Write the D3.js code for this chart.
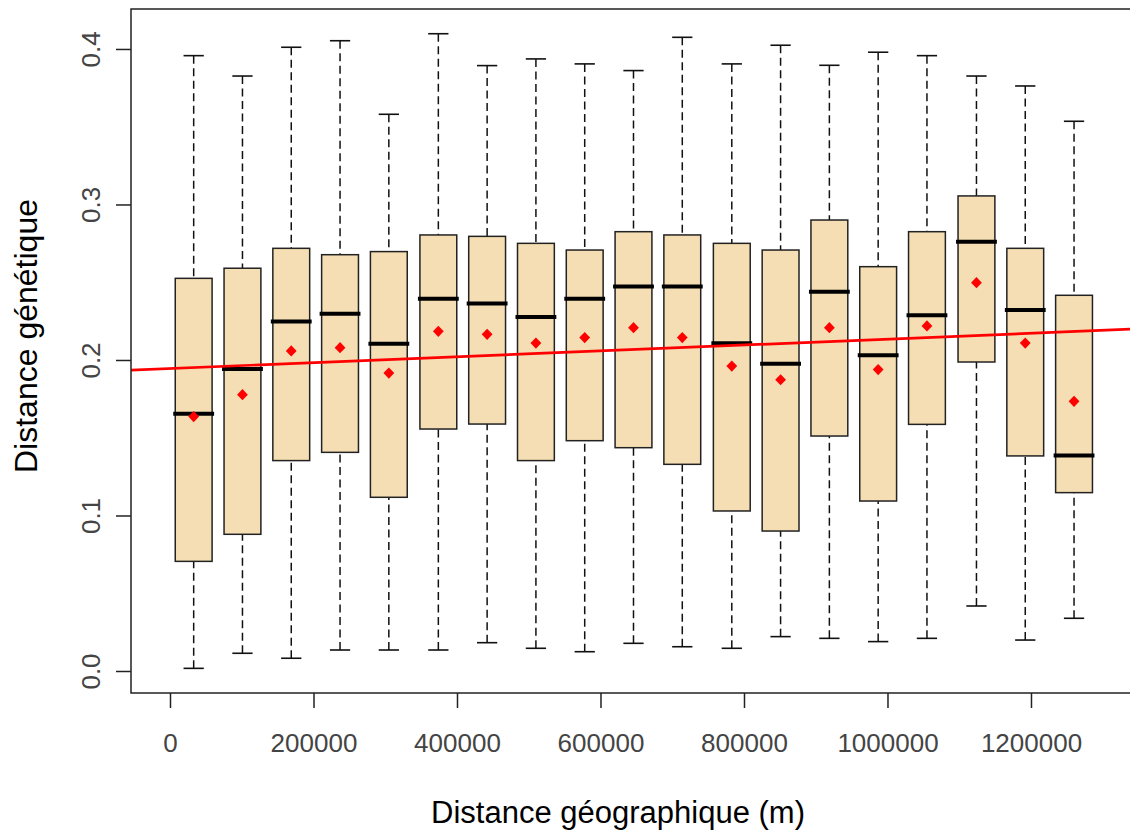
<!DOCTYPE html>
<html>
<head>
<meta charset="utf-8">
<script src="https://cdn.jsdelivr.net/npm/d3@7"></script>
<style>
  html, body { margin: 0; padding: 0; background: #fff; }
  svg { display: block; font-family: "Liberation Sans", Arial, Helvetica, sans-serif; }
</style>
</head>
<body>
<svg id="chart" width="1130" height="834"></svg>
<script>
// ---- data ----
const binCenters = [33000, 101000, 169000, 237000, 305000, 374000, 442000, 510000, 578000, 646000,
                    714000, 783000, 851000, 919000, 987000, 1055000, 1124000, 1192000, 1260000];
const whiskerLow = [0.0017, 0.0114, 0.0082, 0.0135, 0.0135, 0.0135, 0.0182, 0.0146, 0.0124, 0.0178,
                    0.0156, 0.0146, 0.0221, 0.0210, 0.0189, 0.0210, 0.0418, 0.0199, 0.0339];
const q1 =         [0.0705, 0.0879, 0.1353, 0.1406, 0.1117, 0.1556, 0.1588, 0.1353, 0.1481, 0.1436,
                    0.1329, 0.1029, 0.0900, 0.1511, 0.1093, 0.1586, 0.1987, 0.1383, 0.1147];
const medians =    [0.1655, 0.1942, 0.2247, 0.2298, 0.2105, 0.2394, 0.2364, 0.2277, 0.2394, 0.2472,
                    0.2472, 0.2107, 0.1976, 0.2439, 0.2030, 0.2287, 0.2761, 0.2322, 0.1385];
const q3 =         [0.2525, 0.2590, 0.2718, 0.2677, 0.2697, 0.2804, 0.2795, 0.2750, 0.2707, 0.2825,
                    0.2804, 0.2750, 0.2707, 0.2900, 0.2600, 0.2825, 0.3055, 0.2718, 0.2416];
const whiskerHigh = [0.3957, 0.3826, 0.4011, 0.4053, 0.3580, 0.4098, 0.3893, 0.3936, 0.3904, 0.3861,
                    0.4075, 0.3904, 0.4024, 0.3895, 0.3979, 0.3957, 0.3826, 0.3762, 0.3535];
const means =      [0.1636, 0.1777, 0.2058, 0.2079, 0.1916, 0.2184, 0.2165, 0.2109, 0.2144, 0.2208,
                    0.2144, 0.1961, 0.1873, 0.2208, 0.1938, 0.2219, 0.2497, 0.2109, 0.1734];
const regIntercept = 0.1945;     // linear fit: genetic = a + b * geographic
const regSlope = 1.89e-8;
const xTicks = [0, 200000, 400000, 600000, 800000, 1000000, 1200000];
const yTicks = [0.0, 0.1, 0.2, 0.3, 0.4];
const xTitle = "Distance géographique (m)";
const yTitle = "Distance génétique";

// ---- layout ----
const plot = { left: 131, right: 1184, top: 9, bottom: 693 };
const x = d3.scaleLinear().domain([-54355, 1413256]).range([plot.left, plot.right]);
const y = d3.scaleLinear().domain([-0.01415, 0.4257]).range([plot.bottom, plot.top]);

const svg = d3.select("#chart");
const boxes = binCenters.map((c, i) => ({
  c, lo: whiskerLow[i], q1: q1[i], med: medians[i], q3: q3[i], hi: whiskerHigh[i], mean: means[i]
}));
const step = x(binCenters[1]) - x(binCenters[0]);
const boxW = step * 0.755;
const capW = boxW * 0.55;

svg.append("clipPath").attr("id", "clip")
  .append("rect").attr("x", plot.left).attr("y", plot.top)
  .attr("width", plot.right - plot.left).attr("height", plot.bottom - plot.top);

const g = svg.append("g");

// whiskers (dashed, drawn from the cap towards the box)
const bx = g.selectAll("g.box").data(boxes).join("g").attr("class", "box");
bx.append("line")
  .attr("x1", d => x(d.c)).attr("x2", d => x(d.c))
  .attr("y1", d => y(d.hi)).attr("y2", d => y(d.q3))
  .attr("stroke", "#111").attr("stroke-width", 1.5).attr("stroke-dasharray", "8,4.5");
bx.append("line")
  .attr("x1", d => x(d.c)).attr("x2", d => x(d.c))
  .attr("y1", d => y(d.lo)).attr("y2", d => y(d.q1))
  .attr("stroke", "#111").attr("stroke-width", 1.5).attr("stroke-dasharray", "8,4.5");
// caps
bx.append("line")
  .attr("x1", d => x(d.c) - capW / 2).attr("x2", d => x(d.c) + capW / 2)
  .attr("y1", d => y(d.hi)).attr("y2", d => y(d.hi))
  .attr("stroke", "#111").attr("stroke-width", 1.6);
bx.append("line")
  .attr("x1", d => x(d.c) - capW / 2).attr("x2", d => x(d.c) + capW / 2)
  .attr("y1", d => y(d.lo)).attr("y2", d => y(d.lo))
  .attr("stroke", "#111").attr("stroke-width", 1.6);
// box
bx.append("rect")
  .attr("x", d => x(d.c) - boxW / 2).attr("width", boxW)
  .attr("y", d => y(d.q3)).attr("height", d => y(d.q1) - y(d.q3))
  .attr("fill", "#F5DEB3").attr("stroke", "#222").attr("stroke-width", 1.5);
// median
bx.append("line")
  .attr("x1", d => x(d.c) - boxW / 2 - 2).attr("x2", d => x(d.c) + boxW / 2 + 2)
  .attr("y1", d => y(d.med)).attr("y2", d => y(d.med))
  .attr("stroke", "#000").attr("stroke-width", 4);

// regression line
const xd = x.domain();
g.append("line")
  .attr("clip-path", "url(#clip)")
  .attr("x1", x(xd[0])).attr("x2", x(xd[1]))
  .attr("y1", y(regIntercept + regSlope * xd[0])).attr("y2", y(regIntercept + regSlope * xd[1]))
  .attr("stroke", "#FF0000").attr("stroke-width", 2.7);

// means (red diamonds)
const diamond = { draw(ctx) { ctx.moveTo(0, -5.6); ctx.lineTo(5.4, 0); ctx.lineTo(0, 5.6); ctx.lineTo(-5.4, 0); ctx.closePath(); } };
g.selectAll("path.mean").data(boxes).join("path").attr("class", "mean")
  .attr("d", d3.symbol().type(diamond)())
  .attr("transform", d => `translate(${x(d.c)},${y(d.mean)})`)
  .attr("fill", "#FF0000");

// frame
svg.append("rect")
  .attr("x", plot.left).attr("y", plot.top)
  .attr("width", plot.right - plot.left).attr("height", plot.bottom - plot.top)
  .attr("fill", "none").attr("stroke", "#222").attr("stroke-width", 1.5);

// axes
const xAxis = svg.append("g").attr("transform", `translate(0,${plot.bottom})`)
  .call(d3.axisBottom(x).tickValues(xTicks).tickFormat(d3.format("d")).tickSize(15).tickSizeOuter(0));
xAxis.select(".domain").remove();
xAxis.selectAll(".tick line").attr("stroke", "#222").attr("stroke-width", 1.5);
xAxis.selectAll(".tick text").attr("y", 59).attr("dy", 0)
  .attr("font-size", 26).attr("fill", "#444")
  .attr("font-family", "Liberation Sans, Arial, sans-serif");

const yAxis = svg.append("g").attr("transform", `translate(${plot.left},0)`)
  .call(d3.axisLeft(y).tickValues(yTicks).tickFormat(d3.format(".1f")).tickSize(15).tickSizeOuter(0));
yAxis.select(".domain").remove();
yAxis.selectAll(".tick line").attr("stroke", "#222").attr("stroke-width", 1.5);
yAxis.selectAll(".tick text")
  .attr("x", 0).attr("y", 0).attr("dy", 0)
  .attr("transform", "translate(-31,0) rotate(-90)")
  .attr("text-anchor", "middle")
  .attr("font-size", 26).attr("fill", "#444")
  .attr("font-family", "Liberation Sans, Arial, sans-serif");

// titles
svg.append("text").attr("x", 618).attr("y", 823)
  .attr("text-anchor", "middle").attr("font-size", 31).attr("fill", "#000")
  .text(xTitle);
svg.append("text").attr("transform", "translate(37,336) rotate(-90)")
  .attr("text-anchor", "middle").attr("font-size", 32).attr("fill", "#000")
  .text(yTitle);
</script>
</body>
</html>
